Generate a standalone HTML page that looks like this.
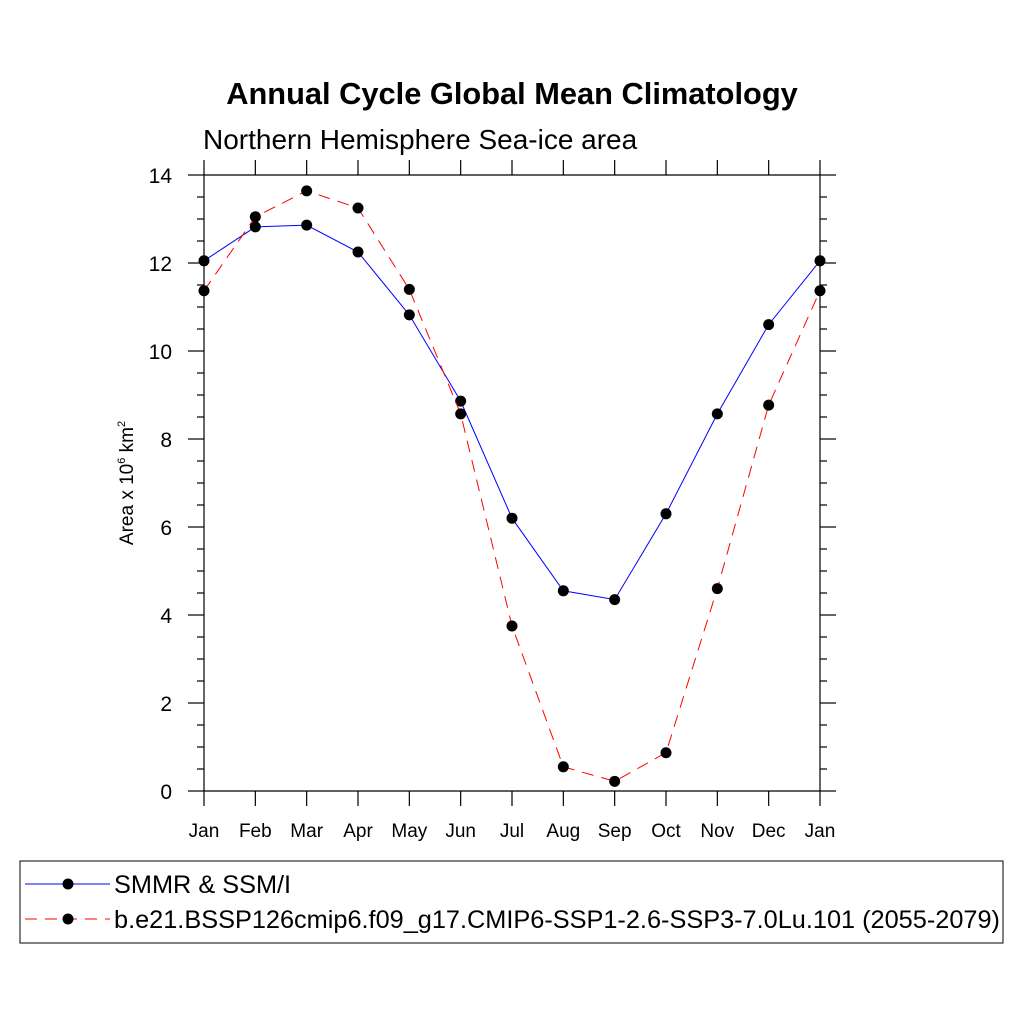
<!DOCTYPE html>
<html><head><meta charset="utf-8"><style>
body{margin:0;background:#fff}
svg text{font-family:"Liberation Sans",sans-serif;fill:#000}
</style></head><body>
<svg width="1024" height="1024" viewBox="0 0 1024 1024">
<text x="512" y="104" text-anchor="middle" font-size="30.8" font-weight="bold">Annual Cycle Global Mean Climatology</text>
<text x="203" y="149" font-size="28">Northern Hemisphere Sea-ice area</text>
<text transform="translate(133,483) rotate(-90)" text-anchor="middle" font-size="19">Area x 10<tspan font-size="11" dy="-8">6</tspan><tspan dy="8"> km</tspan><tspan font-size="11" dy="-8">2</tspan></text>
<g id="axes"></g>
<g id="series"></g>
<rect x="20" y="861" width="983" height="82" fill="none" stroke="#000" stroke-width="1"/>
<g>
<line x1="25" y1="884" x2="110" y2="884" stroke="#00f" stroke-width="1"/>
<circle cx="68" cy="884" r="5.5" fill="#000"/>
<text x="114" y="893" font-size="25.3">SMMR &amp; SSM/I</text></g>
<g>
<line x1="25" y1="919" x2="110" y2="919" stroke="#f00" stroke-width="1" stroke-dasharray="12,8"/>
<circle cx="68" cy="919" r="5.5" fill="#000"/>
<text x="114" y="928" font-size="25.3">b.e21.BSSP126cmip6.f09_g17.CMIP6-SSP1-2.6-SSP3-7.0Lu.101 (2055-2079)</text></g>
</svg>
<script>
const months=["Jan","Feb","Mar","Apr","May","Jun","Jul","Aug","Sep","Oct","Nov","Dec","Jan"];
const obs=[12.05,12.82,12.86,12.25,10.82,8.86,6.2,4.55,4.35,6.3,8.57,10.6,12.05];
const model=[11.37,13.05,13.64,13.25,11.4,8.57,3.75,0.55,0.22,0.87,4.6,8.77,11.37];
const yTicks=[0,2,4,6,8,10,12,14];
const NS="http://www.w3.org/2000/svg";
const X0=204,X1=820,Y0=791,Y1=175,YMAX=14;
const xs=i=>X0+(X1-X0)*i/(months.length-1);
const ys=v=>Y0-(Y0-Y1)*v/YMAX;
function mk(tag,a,parent){const e=document.createElementNS(NS,tag);for(const k in a)e.setAttribute(k,a[k]);parent.appendChild(e);return e;}
const ax=document.getElementById('axes'),sr=document.getElementById('series');
const st={stroke:"#000","stroke-width":1.2};
let l;
l=mk('line',Object.assign({x1:X0,y1:Y1,x2:X1,y2:Y1},st),ax);

l=mk('line',Object.assign({x1:X0,y1:Y0,x2:X1,y2:Y0},st),ax);

l=mk('line',Object.assign({x1:X0,y1:Y1,x2:X0,y2:Y0},st),ax);

l=mk('line',Object.assign({x1:X1,y1:Y1,x2:X1,y2:Y0},st),ax);

months.forEach((m,i)=>{const x=xs(i);
 l=mk('line',Object.assign({x1:x,y1:Y0,x2:x,y2:Y0+15},st),ax);
 
 l=mk('line',Object.assign({x1:x,y1:Y1,x2:x,y2:Y1-15},st),ax);
 
 const t=mk('text',{x:x,y:837,"text-anchor":"middle","font-size":19},ax);t.textContent=m;
 
});
for(let v=0;v<=YMAX+0.001;v+=0.5){const y=ys(v);const maj=Math.abs(v%2)<0.01;const len=maj?16:7;
 l=mk('line',Object.assign({x1:X0-len,y1:y,x2:X0,y2:y},st),ax);
 
 l=mk('line',Object.assign({x1:X1,y1:y,x2:X1+len,y2:y},st),ax);
 
}
yTicks.forEach(v=>{const t=mk('text',{x:172,y:ys(v)+8,"text-anchor":"end","font-size":21},ax);t.textContent=v;
 });
function draw(vals,color,dash,name){
 const p=mk('polyline',{points:vals.map((v,i)=>xs(i)+","+ys(v)).join(" "),fill:"none",stroke:color,"stroke-width":1,"stroke-dasharray":dash},sr);
 
 vals.forEach((v,i)=>{const c=mk('circle',{cx:xs(i),cy:ys(v),r:5.5,fill:"#000"},sr);
  });
}
draw(obs,"#00f","none","obs");
draw(model,"#f00","12,8","model");
</script>
</body></html>
